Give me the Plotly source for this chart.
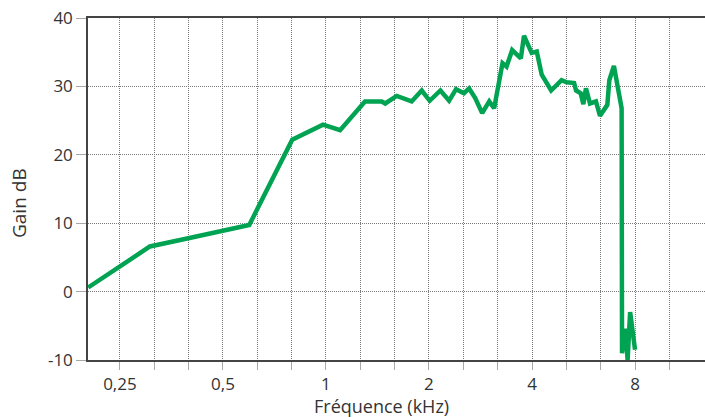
import math
import plotly.graph_objects as go

# Frequency response: gain (dB) versus frequency (kHz)
freq_khz = [0.202, 0.306, 0.387, 0.50, 0.597, 0.797, 0.98, 1.10, 1.30, 1.455,
            1.49, 1.61, 1.66, 1.78, 1.905, 2.01, 2.16, 2.29, 2.40, 2.53,
            2.62, 2.73, 2.86, 3.00, 3.10, 3.28, 3.37, 3.50, 3.71, 3.79,
            3.99, 4.13, 4.27, 4.55, 4.88, 5.05, 5.31, 5.38, 5.55, 5.65,
            5.75, 5.91, 6.15, 6.32, 6.64, 6.73, 6.94, 7.31, 7.33, 7.50,
            7.61, 7.74, 8.00]
gain_db = [0.6, 6.6, 7.7, 8.9, 9.75, 22.2, 24.4, 23.6, 27.8, 27.8,
           27.5, 28.6, 28.4, 27.8, 29.4, 27.9, 29.4, 27.9, 29.6, 29.0,
           29.7, 28.3, 26.1, 27.8, 26.8, 33.4, 32.9, 35.3, 34.1, 37.4,
           34.9, 35.1, 31.7, 29.4, 30.9, 30.6, 30.5, 29.4, 29.0, 27.4,
           29.7, 27.5, 27.8, 25.7, 27.3, 30.9, 33.0, 26.8, -9.0, -5.4,
           -10.0, -3.0, -8.5]

# Third-octave grid from 0.25 kHz upward; only octave marks carry labels
x_grid = [0.25 * 2 ** (k / 3) for k in range(17)]
x_labels = {0: "0,25", 3: "0,5", 6: "1", 9: "2", 12: "4", 15: "8"}
x_text = [x_labels.get(k, "") for k in range(17)]

y_ticks = [-10, 0, 10, 20, 30, 40]
y_text = ["-10", "0", "10", "20", "30", "40"]

FONT = "'Open Sans', Lato, sans-serif"
TEXT = "#333333"
GREEN = "#00A352"
GRID = "#7a7a7a"
DOTS = "1px,1px"

# plot-area edges in pixels, used to place the axis titles
L, R, T, B = 88, 705, 18, 360

fig = go.Figure()
fig.add_trace(go.Scatter(
    x=freq_khz, y=gain_db, mode="lines",
    line=dict(color=GREEN, width=4.5),
    hoverinfo="skip", showlegend=False,
))

fig.update_layout(
    width=705, height=417,
    margin=dict(l=L, r=705 - R, t=T, b=417 - B),
    paper_bgcolor="white", plot_bgcolor="white",
    font=dict(family=FONT, size=17, color=TEXT),
    xaxis=dict(
        type="log",
        range=[math.log10(0.2017), math.log10(12.81)],
        tickmode="array", tickvals=x_grid, ticktext=x_text,
        showgrid=True, gridcolor=GRID, griddash=DOTS, gridwidth=1,
        showline=True, linecolor="#444444", linewidth=1.5, mirror=True,
        ticks="outside", ticklen=8, tickcolor="#a8a8a8", tickwidth=1,
        tickfont=dict(size=17, color=TEXT),
        zeroline=False,
    ),
    yaxis=dict(
        range=[-10, 40],
        tickmode="array", tickvals=y_ticks, ticktext=y_text,
        showgrid=True, gridcolor=GRID, griddash=DOTS, gridwidth=1,
        showline=True, linecolor="#444444", linewidth=1.5,
        ticks="outside", ticklen=10, tickcolor="#a8a8a8", tickwidth=1,
        tickfont=dict(size=17, color=TEXT),
        zeroline=False,
    ),
    annotations=[
        dict(text="Fréquence (kHz)", xref="paper", yref="paper",
             x=(381.5 - L) / (R - L), y=-(406 - B) / (B - T),
             xanchor="center", yanchor="middle", showarrow=False,
             font=dict(size=18, color=TEXT)),
        dict(text="Gain dB", xref="paper", yref="paper",
             x=-(L - 19) / (R - L), y=(B - 203) / (B - T), textangle=-90,
             xanchor="center", yanchor="middle", showarrow=False,
             font=dict(size=19, color=TEXT)),
    ],
)

fig.write_html("out.html")
